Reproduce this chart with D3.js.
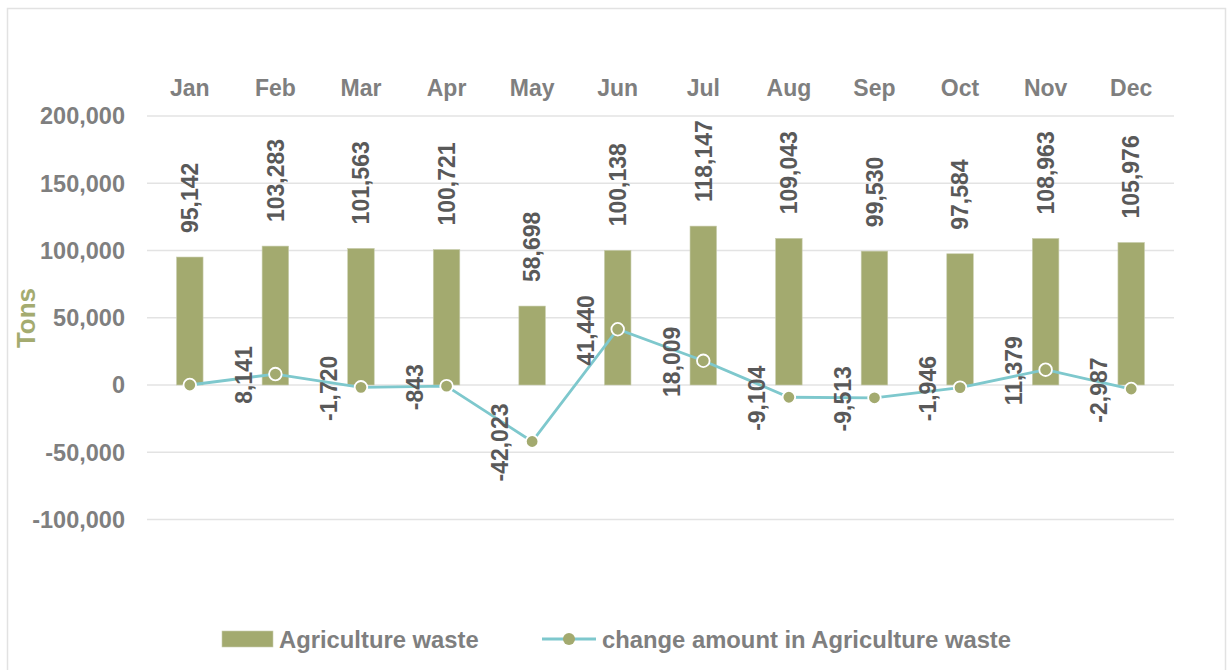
<!DOCTYPE html>
<html>
<head>
<meta charset="utf-8">
<script src="https://cdn.jsdelivr.net/npm/d3@7"></script>
<style>
  html, body { margin: 0; padding: 0; background: #fff; }
  svg { display: block; font-family: "Liberation Sans", Arial, sans-serif; font-weight: bold; }
</style>
</head>
<body>
<svg id="chart" width="1229" height="670"></svg>
<script>
// Monthly agriculture waste (tons) and month-over-month change
const months = ["Jan", "Feb", "Mar", "Apr", "May", "Jun", "Jul", "Aug", "Sep", "Oct", "Nov", "Dec"];
const wasteTons = [95142, 103283, 101563, 100721, 58698, 100138, 118147, 109043, 99530, 97584, 108963, 105976];
const changeTons = [0, 8141, -1720, -843, -42023, 41440, 18009, -9104, -9513, -1946, 11379, -2987];
const changeLabels = ["", "8,141", "-1,720", "-843", "-42,023", "41,440", "18,009", "-9,104", "-9,513", "-1,946", "11,379", "-2,987"];
const yTicks = [-100000, -50000, 0, 50000, 100000, 150000, 200000];
const seriesNames = ["Agriculture waste", "change amount in Agriculture waste"];

const barColor = "#a3aa6f";
const lineColor = "#7ec8cd";
const axisGrey = "#7f7f7f";
const labelGrey = "#595959";
const gridColor = "#e3e3e3";

const svg = d3.select("#chart");

// outer chart frame
svg.append("rect")
  .attr("x", 7.5).attr("y", 8.5)
  .attr("width", 1218).attr("height", 700)
  .attr("fill", "none").attr("stroke", "#e2e2e2").attr("stroke-width", 1.5);

const plot = { left: 147, right: 1174, top: 116, bottom: 519.5 };

const x = d3.scaleBand().domain(months).range([plot.left, plot.right]).paddingInner(0.69).paddingOuter(0.345);
const y = d3.scaleLinear().domain([-100000, 200000]).range([plot.bottom, plot.top]);

// number format with a plain hyphen for negatives
const fmt = d3.formatLocale({ decimal: ".", thousands: ",", grouping: [3], currency: ["", ""], minus: "-" }).format(",");

// horizontal gridlines
svg.append("g").selectAll("line").data(yTicks).join("line")
  .attr("x1", plot.left).attr("x2", plot.right)
  .attr("y1", d => y(d)).attr("y2", d => y(d))
  .attr("stroke", gridColor).attr("stroke-width", 1.5);

// y axis tick labels
svg.append("g").selectAll("text").data(yTicks).join("text")
  .attr("x", 125).attr("y", d => y(d)).attr("dy", "0.36em")
  .attr("text-anchor", "end")
  .attr("font-size", 23.5).attr("fill", axisGrey)
  .text(d => fmt(d));

// month labels along the top
svg.append("g").selectAll("text").data(months).join("text")
  .attr("x", d => x(d) + x.bandwidth() / 2).attr("y", 96)
  .attr("text-anchor", "middle")
  .attr("font-size", 23).attr("fill", axisGrey)
  .text(d => d);

// axis title
svg.append("text")
  .attr("transform", "translate(26,318) rotate(-90)")
  .attr("dy", "0.36em")
  .attr("text-anchor", "middle")
  .attr("font-size", 26).attr("fill", "#a4ab70")
  .text("Tons");

// bars
svg.append("g").selectAll("rect").data(wasteTons).join("rect")
  .attr("x", (d, i) => x(months[i]))
  .attr("width", x.bandwidth())
  .attr("y", d => y(d))
  .attr("height", d => y(0) - y(d))
  .attr("fill", barColor)
  .attr("stroke", "#c9cdae").attr("stroke-width", 0.6);

// bar value labels
svg.append("g").selectAll("text").data(wasteTons).join("text")
  .attr("transform", (d, i) => `translate(${x(months[i]) + x.bandwidth() / 2},${y(d) - 24}) rotate(-90)`)
  .attr("dy", "0.36em")
  .attr("text-anchor", "start")
  .attr("font-size", 23).attr("fill", labelGrey)
  .text(d => fmt(d));

// change line
const cx = (d, i) => x(months[i]) + x.bandwidth() / 2;
const line = d3.line().x(cx).y(d => y(d));
svg.append("path").datum(changeTons)
  .attr("d", line)
  .attr("fill", "none").attr("stroke", lineColor).attr("stroke-width", 2.8);

// change line labels
svg.append("g").selectAll("text").data(changeTons).join("text")
  .attr("transform", (d, i) => `translate(${cx(d, i) - 32},${y(d) + 1}) rotate(-90)`)
  .attr("dy", "0.36em")
  .attr("text-anchor", "middle")
  .attr("font-size", 23).attr("fill", labelGrey)
  .text((d, i) => changeLabels[i]);

// markers
svg.append("g").selectAll("circle").data(changeTons).join("circle")
  .attr("cx", cx).attr("cy", d => y(d)).attr("r", 6.3)
  .attr("fill", barColor).attr("stroke", "#fff").attr("stroke-width", 1.8);

// legend
const legend = svg.append("g");
legend.append("rect")
  .attr("x", 222).attr("y", 631).attr("width", 51).attr("height", 16)
  .attr("fill", barColor).attr("stroke", "#c9cdae").attr("stroke-width", 0.6);
legend.append("text")
  .attr("x", 279).attr("y", 639).attr("dy", "0.36em")
  .attr("font-size", 23.8).attr("fill", axisGrey)
  .text(seriesNames[0]);
legend.append("line")
  .attr("x1", 542).attr("x2", 596).attr("y1", 639).attr("y2", 639)
  .attr("stroke", lineColor).attr("stroke-width", 2.8);
legend.append("circle")
  .attr("cx", 569).attr("cy", 639).attr("r", 6)
  .attr("fill", barColor);
legend.append("text")
  .attr("x", 602).attr("y", 639).attr("dy", "0.36em")
  .attr("font-size", 23.8).attr("fill", axisGrey)
  .text(seriesNames[1]);
</script>
</body>
</html>
